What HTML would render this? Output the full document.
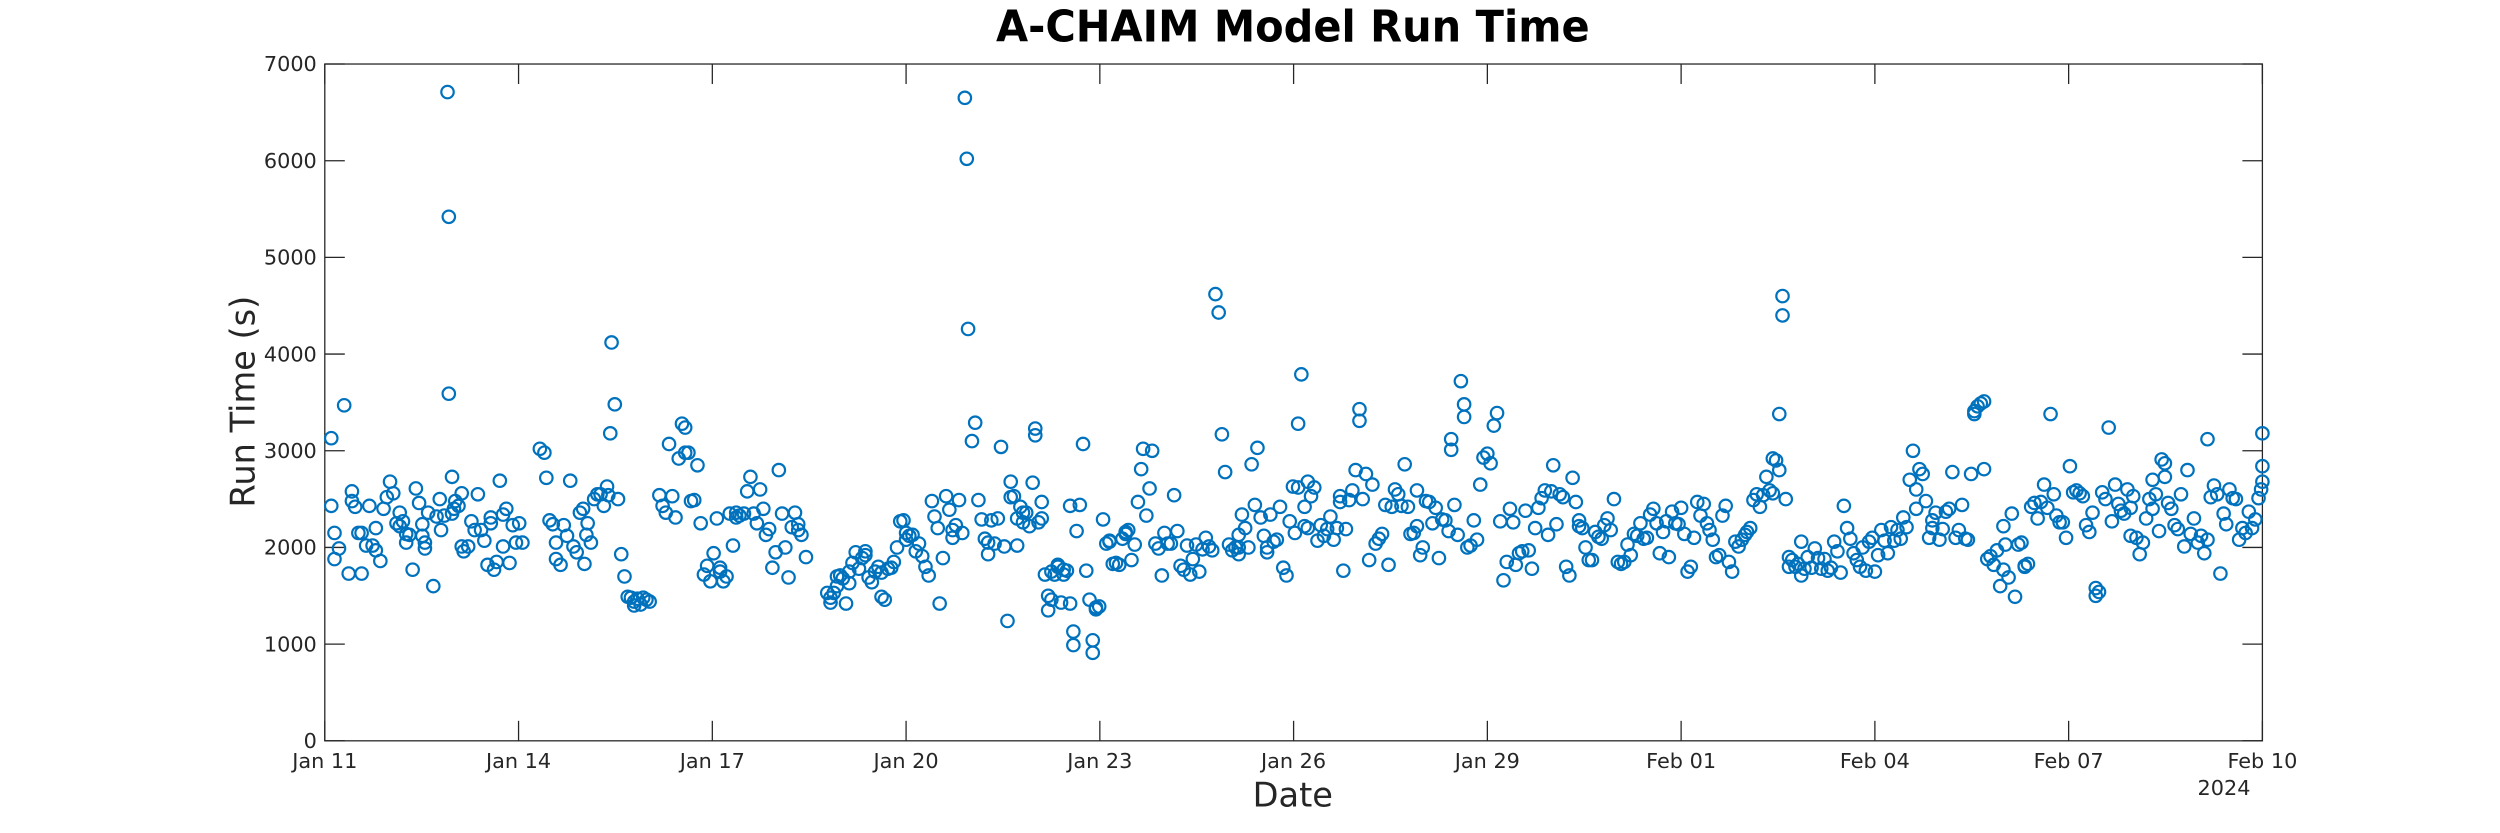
<!DOCTYPE html>
<html><head><meta charset="utf-8"><style>
html,body{margin:0;padding:0;background:#fff;}
svg{display:block;}
text{font-family:"DejaVu Sans","Liberation Sans",sans-serif;fill:#262626;}
</style></head><body>
<svg id="chart" width="2500" height="833" viewBox="0 0 1562.5 520.6" xmlns="http://www.w3.org/2000/svg">
<rect x="0" y="0" width="1562.5" height="520.6" fill="#fff"/>
<text x="808" y="26" text-anchor="middle" font-size="27" font-weight="bold" style="fill:#000" textLength="371" lengthAdjust="spacingAndGlyphs">A-CHAIM Model Run Time</text>
<text transform="translate(159,251) rotate(-90)" text-anchor="middle" font-size="21">Run Time (s)</text>
<text x="808" y="504" text-anchor="middle" font-size="21">Date</text>
<text x="1390" y="497" text-anchor="middle" font-size="13">2024</text>
<g id="axes"></g>
<g id="marks"></g>
</svg>
<script>
const yTicks=[0,1000,2000,3000,4000,5000,6000,7000];
const xTickDays=[0,3,6,9,12,15,18,21,24,27,30];
const xTickLabels=["Jan 11","Jan 14","Jan 17","Jan 20","Jan 23","Jan 26","Jan 29","Feb 01","Feb 04","Feb 07","Feb 10"];
const runDays=[
0.10,0.10,0.15,0.15,0.22,0.30,0.37,0.42,0.42,0.47,0.52,0.57,0.57,0.64,0.69,0.74,0.79,0.79,0.86,0.91,0.96,1.01,1.06,1.11,1.16,1.16,1.21,1.26,1.26,1.31,1.36,1.41,1.46,1.51,1.51,1.55,1.55,1.60,1.68,1.73,1.78,1.80,1.85,1.90,1.92,1.92,1.97,1.97,2.00,2.02,2.07,2.12,2.12,2.15,2.22,2.27,2.32,2.37,2.42,2.47,2.52,2.57,2.57,2.62,2.66,2.71,2.76,2.76,2.81,2.86,2.91,2.96,3.01,3.06,
3.33,3.40,3.43,3.48,3.53,3.58,3.58,3.65,3.70,3.75,3.80,3.85,3.90,3.95,4.00,4.02,4.05,4.07,4.12,4.17,4.22,4.27,4.32,4.37,4.39,4.42,4.44,4.49,4.54,4.59,4.64,4.69,4.74,4.79,4.79,4.84,4.89,4.93,4.98,5.03,5.18,5.23,5.28,5.33,5.38,5.43,5.48,5.53,5.58,5.58,5.63,5.67,5.72,5.77,5.82,5.87,5.92,5.97,
6.02,6.07,6.12,6.12,6.17,6.22,6.27,6.32,6.37,6.37,6.42,6.49,6.54,6.59,6.64,6.69,6.74,6.79,6.83,6.88,6.93,6.98,7.03,7.08,7.13,7.18,7.23,7.28,7.33,7.33,7.38,7.45,
7.78,7.83,7.83,7.88,7.93,7.93,7.98,8.02,8.07,8.12,8.12,8.17,8.22,8.27,8.32,8.37,8.37,8.42,8.47,8.52,8.57,8.62,8.62,8.67,8.72,8.77,8.81,8.86,8.91,8.96,9.0,9.0,9.05,9.10,9.15,9.20,9.25,9.30,9.35,9.40,9.44,9.49,9.52,9.57,9.62,9.67,9.72,9.72,9.77,9.82,9.87,9.91,9.94,9.96,
10.02,10.07,10.12,10.17,10.22,10.27,10.27,10.32,10.37,10.42,10.47,10.52,10.57,10.62,10.62,10.67,10.72,10.72,10.77,10.81,10.81,10.86,10.91,10.96,11.0,11.0,11.05,11.1,11.1,11.15,11.2,11.2,11.25,11.25,11.3,11.35,11.35,11.4,11.44,11.44,11.49,11.54,11.54,11.59,11.59,11.64,11.69,11.74,11.79,11.84,11.89,11.89,11.94,11.94,11.99,
12.05,12.10,12.15,12.15,12.20,12.25,12.30,12.35,12.40,12.40,12.44,12.49,12.54,12.59,12.64,12.67,12.72,12.77,12.81,12.86,12.91,12.96,13.0,13.05,13.1,13.15,13.2,13.25,13.3,13.35,13.4,13.44,13.49,13.54,13.59,13.64,13.69,13.74,13.79,13.84,13.89,13.94,14.0,
14.05,14.1,14.15,14.15,14.15,14.2,14.25,14.3,14.35,14.4,14.44,14.49,14.54,14.59,14.59,14.64,14.69,14.74,14.79,14.84,14.89,14.94,14.99,15.02,15.07,15.07,15.12,15.17,15.17,15.22,15.22,15.27,15.32,15.37,15.42,15.47,15.52,15.57,15.62,15.67,15.72,15.72,15.77,15.81,15.86,15.91,15.96,
16.02,16.02,16.07,16.12,16.17,16.22,16.27,16.32,16.37,16.42,16.47,16.52,16.57,16.62,16.67,16.72,16.77,16.81,16.86,16.91,16.91,16.96,17.0,17.05,17.1,17.15,17.2,17.25,17.3,17.35,17.4,17.44,17.44,17.49,17.54,17.59,17.64,17.64,17.69,17.74,17.79,17.84,17.89,17.94,
18.0,18.05,18.1,18.15,18.2,18.25,18.3,18.35,18.4,18.44,18.49,18.54,18.59,18.64,18.69,18.74,18.79,18.84,18.89,18.94,18.99,19.02,19.07,19.12,19.17,19.22,19.27,19.32,19.37,19.42,19.42,19.47,19.52,19.57,19.62,19.67,19.72,19.77,19.81,19.86,19.91,19.96,
20.02,20.07,20.12,20.17,20.22,20.27,20.32,20.37,20.42,20.47,20.52,20.57,20.62,20.67,20.72,20.77,20.81,20.86,20.91,20.96,21.0,21.05,21.1,21.15,21.2,21.25,21.3,21.35,21.4,21.44,21.49,21.54,21.59,21.64,21.69,21.74,21.79,21.84,21.89,21.94,21.99,
22.02,22.07,22.12,22.17,22.22,22.27,22.32,22.37,22.42,22.42,22.47,22.52,22.52,22.57,22.57,22.62,22.67,22.67,22.72,22.77,22.81,22.86,22.86,22.91,22.96,23.02,23.07,23.12,23.17,23.22,23.27,23.32,23.37,23.42,23.47,23.52,23.57,23.62,23.67,23.72,23.77,23.81,23.86,23.91,23.96,
24.0,24.05,24.1,24.15,24.2,24.25,24.3,24.35,24.4,24.44,24.49,24.54,24.59,24.64,24.64,24.69,24.74,24.79,24.84,24.89,24.89,24.94,25.0,25.05,25.1,25.15,25.2,25.25,25.3,25.35,25.4,25.44,25.49,25.54,25.54,25.59,25.64,25.69,25.69,25.74,25.79,25.84,25.89,25.94,25.99,25.99,
26.02,26.07,26.12,26.17,26.22,26.27,26.32,26.32,26.37,26.42,26.47,26.52,26.57,26.62,26.67,26.72,26.77,26.81,26.86,26.91,26.96,27.02,27.07,27.12,27.17,27.22,27.27,27.32,27.37,27.42,27.42,27.47,27.52,27.57,27.62,27.67,27.72,27.77,27.81,27.86,27.91,27.96,27.96,28.0,
28.05,28.1,28.15,28.2,28.25,28.3,28.3,28.35,28.4,28.44,28.49,28.49,28.54,28.59,28.64,28.69,28.74,28.79,28.84,28.89,28.94,29.0,29.05,29.1,29.15,29.15,29.2,29.25,29.3,29.35,29.4,29.44,29.49,29.54,29.59,29.64,29.69,29.74,29.79,29.84,29.89,29.94,29.98,30.0,30.0,30.0
];
const runTimes=[
3130,2430,2150,1880,1990,3470,1730,2580,2480,2420,2150,2150,1730,2020,2430,2020,2200,1970,1860,2400,2520,2680,2560,2250,2220,2360,2270,2050,2140,2130,1770,2610,2460,2240,2120,2050,1990,2360,1600,2320,2500,2180,2330,6710,5420,3590,2730,2350,2400,2480,2430,2560,2010,1960,2010,2270,2180,2550,2180,2070,1820,2310,2250,1770,1850,2690,2010,2340,2400,1840,2230,2050,2250,2050,
3020,2980,2720,2280,2240,1880,2050,1820,2230,2120,2690,2010,1950,2360,2400,1830,2130,2250,2050,2500,2550,2550,2430,2630,2540,3180,4120,3480,2500,1930,1700,1490,1480,1400,1440,1470,1410,1480,1460,1440,2540,2430,2360,3070,2530,2310,2920,3280,2980,3240,2980,2480,2490,2850,2250,1720,1810,1650,
1940,2300,1790,1750,1650,1700,2350,2020,2310,2360,2330,2350,2580,2730,2350,2250,2600,2400,2130,2190,1790,1950,2800,2350,2000,1690,2210,2360,2180,2240,2130,1900,
1530,1430,1480,1530,1600,1700,1710,1680,1420,1630,1750,1840,1950,1780,1890,1960,1920,1690,1640,1750,1800,1740,1490,1460,1780,1790,1850,2000,2270,2280,2150,2080,2120,2130,1960,2040,1910,1800,1710,2480,2320,2200,1420,1890,2530,2390,2180,2100,2230,2490,2150,6650,6020,4260,
3100,3290,2490,2290,2090,1930,2050,2280,2040,2300,3040,2010,1240,2680,2520,2530,2300,2020,2420,2360,2260,2360,2220,2670,3230,3160,2260,2300,2470,1720,1500,1350,1750,1460,1720,1820,1800,1430,1720,1770,1760,2430,1420,1130,990,2170,2440,3070,1760,1460,1040,910,1360,1380,1390,
2290,2040,2060,2070,1830,1840,1820,2090,2140,2160,2180,1870,2030,2470,2810,3020,2330,2610,3000,2040,1990,1710,2150,2040,2040,2540,2170,1810,1770,2020,1720,1880,2030,1750,1980,2100,2010,1970,4620,4430,3170,2780,2030,
1970,2000,1930,2130,2000,2340,2200,2000,2860,2440,3030,2310,2120,2000,1950,2340,2060,2080,2420,1790,1710,2270,2630,2150,3280,2620,3790,2220,2420,2680,2200,2530,2620,2070,2230,2120,2190,2320,2080,2200,2470,2530,1760,2190,2490,2590,2800,
3430,3310,2500,2760,1870,2650,2040,2090,2140,2440,1820,2420,2600,2550,2430,2860,2420,2140,2150,2220,2590,1920,2000,2480,2470,2250,2410,1890,2290,2280,2170,3120,3010,2440,2130,3720,3350,3480,2000,2020,2280,2080,2650,2930,
2970,2870,3260,3390,2270,1660,1850,2400,2260,1820,1940,1960,2380,1970,1780,2200,2410,2510,2590,2130,2580,2850,2240,2550,2520,1800,1710,2720,2470,2280,2220,2200,2000,1870,1870,2160,2110,2090,2230,2300,2180,2500,
1850,1830,1850,2030,1920,2140,2120,2250,2090,2100,2340,2400,2250,1940,2160,2270,1900,2370,2250,2240,2410,2140,1750,1800,2100,2470,2330,2450,2250,2180,2080,1900,1920,2330,2430,1850,1750,2060,2010,2080,2130,
2160,2200,2490,2550,2420,2540,2730,2590,2920,2560,2900,2800,3380,4600,4400,2500,1900,1800,1870,1800,1830,2060,1710,1780,1900,1790,1990,1890,1780,1880,1760,1790,2060,1960,1740,2430,2200,2090,1940,1870,1800,2000,1760,2060,2100,
1750,1920,2180,2070,1940,2210,2070,2180,2090,2310,2210,2700,3000,2400,2600,2810,2760,2480,2100,2280,2200,2360,2080,2190,2370,2400,2780,2100,2180,2440,2090,2080,2760,3410,3380,3460,3490,2810,3510,1880,1910,1820,1970,1600,2220,1770,
2030,1690,2350,1490,2030,2050,1800,1810,1830,2420,2460,2300,2470,2650,2410,3380,2550,2330,2260,2260,2100,2840,2570,2590,2560,2530,2230,2160,2360,1580,1500,1540,2570,2500,3240,2270,2650,2450,2380,2350,2600,2410,2120,2530,
2100,1930,2050,2300,2500,2700,2400,2550,2170,2910,2870,2730,2460,2400,2230,2190,2550,2010,2800,2140,2300,2050,2120,1940,2080,3120,2520,2640,2550,1730,2350,2240,2600,2510,2500,2080,2200,2150,2370,2200,2290,2510,2600,2680,2840,3180
];
const NS="http://www.w3.org/2000/svg";
const L=203,R=1414,T=40,B=463,XMAX=30,YMAX=7000;
function xScale(d){return L+(d/XMAX)*(R-L);}
function yScale(v){return B-(v/YMAX)*(B-T);}
function mk(tag,attrs,parent){const e=document.createElementNS(NS,tag);for(const k in attrs)e.setAttribute(k,attrs[k]);parent.appendChild(e);return e;}
const axes=document.getElementById('axes');
const marks=document.getElementById('marks');
const box=mk('rect',{x:L,y:T,width:R-L,height:B-T,fill:'none',stroke:'#262626','stroke-width':0.8},axes);


yTicks.forEach(v=>{
  const y=yScale(v);
  const t1=mk('line',{x1:L,x2:L+12.5,y1:y,y2:y,stroke:'#262626','stroke-width':0.8},axes);
  
  
  const t2=mk('line',{x1:R-12.5,x2:R,y1:y,y2:y,stroke:'#262626','stroke-width':0.8},axes);
  
  
  const lb=mk('text',{x:L-5,y:y+4.5,'text-anchor':'end','font-size':13},axes);
  lb.textContent=String(v);
  
  
});
xTickDays.forEach((d,i)=>{
  const x=xScale(d);
  const t1=mk('line',{x1:x,x2:x,y1:B,y2:B-12.5,stroke:'#262626','stroke-width':0.8},axes);
  
  
  const t2=mk('line',{x1:x,x2:x,y1:T,y2:T+12.5,stroke:'#262626','stroke-width':0.8},axes);
  
  
  const lb=mk('text',{x:x,y:B+17,'text-anchor':'middle','font-size':13},axes);
  lb.textContent=xTickLabels[i];
  
  
});
const n=Math.min(runDays.length,runTimes.length);
for(let i=0;i<n;i++){
  const c=mk('circle',{cx:xScale(runDays[i]),cy:yScale(runTimes[i]),r:3.9,fill:'none',stroke:'#0072BD','stroke-width':1.35},marks);
  
  
}
</script>
</body></html>
